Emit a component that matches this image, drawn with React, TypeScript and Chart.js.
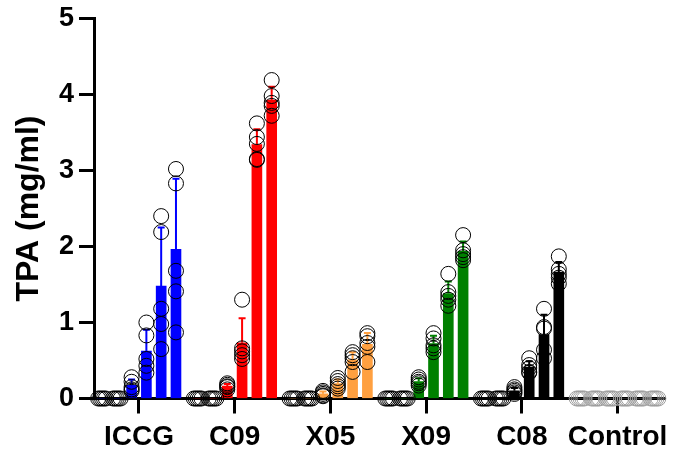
import React, { useEffect, useRef } from 'react';
import { Chart, registerables } from 'chart.js';

Chart.register(...registerables);

// ---- data (mg/ml TPA), 6 time points per enzyme, 5 replicates each ----
const categories = ['ICCG', 'C09', 'X05', 'X09', 'C08', 'Control'];
const yTickValues = [0, 1, 2, 3, 4, 5];
const seriesColors = ['#0000FF', '#FF0000', '#FFA040', '#008000', '#000000', '#9E9E9E'];

const iccg = [
  [0, 0, 0, 0, 0],
  [0, 0, 0, 0, 0],
  [0.28, 0.22, 0.15, 0.12, 0.1],
  [1.0, 0.83, 0.52, 0.43, 0.34],
  [2.4, 2.19, 1.18, 0.98, 0.65],
  [3.02, 2.83, 1.68, 1.41, 0.87],
];
const c09 = [
  [0, 0, 0, 0, 0],
  [0, 0, 0, 0, 0],
  [0.2, 0.18, 0.16, 0.15, 0.12],
  [1.3, 0.66, 0.62, 0.57, 0.52],
  [3.62, 3.44, 3.35, 3.15, 3.14],
  [4.19, 3.98, 3.89, 3.85, 3.72],
];
const x05 = [
  [0, 0, 0, 0, 0],
  [0, 0, 0, 0, 0],
  [0.1, 0.08, 0.06, 0.04, 0.03],
  [0.27, 0.23, 0.19, 0.16, 0.13],
  [0.61, 0.57, 0.53, 0.48, 0.35],
  [0.86, 0.82, 0.73, 0.68, 0.48],
];
const x09 = [
  [0, 0, 0, 0, 0],
  [0, 0, 0, 0, 0],
  [0.28, 0.25, 0.22, 0.2, 0.17],
  [0.86, 0.79, 0.7, 0.66, 0.61],
  [1.64, 1.4, 1.35, 1.3, 1.22],
  [2.15, 1.95, 1.9, 1.86, 1.82],
];
const c08 = [
  [0, 0, 0, 0, 0],
  [0, 0, 0, 0, 0],
  [0.15, 0.12, 0.1, 0.08, 0.06],
  [0.53, 0.44, 0.4, 0.35, 0.34],
  [1.18, 0.94, 0.92, 0.64, 0.53],
  [1.87, 1.7, 1.64, 1.59, 1.51],
];
const control = [
  [0, 0, 0, 0, 0],
  [0, 0, 0, 0, 0],
  [0, 0, 0, 0, 0],
  [0, 0, 0, 0, 0],
  [0, 0, 0, 0, 0],
  [0, 0, 0, 0, 0],
];
const replicates = [iccg, c09, x05, x09, c08, control];

const mean = (a: number[]) => a.reduce((s, v) => s + v, 0) / a.length;
const sd = (a: number[]) => {
  const m = mean(a);
  return Math.sqrt(a.reduce((s, v) => s + (v - m) * (v - m), 0) / (a.length - 1));
};

export default function App() {
  const ref = useRef<HTMLCanvasElement>(null);

  useEffect(() => {
    if (!ref.current) return;
    const FONT = "'Liberation Sans', Arial, sans-serif";
    const BAR_STEP = 0.1546;
    const barPos = (j: number, i: number) => j + (i - 2.5) * BAR_STEP;

    const bars: { x: number; y: number }[] = [];
    const barColors: string[] = [];
    const sds: number[] = [];
    replicates.forEach((cat, j) =>
      cat.forEach((vals, i) => {
        bars.push({ x: barPos(j, i), y: mean(vals) });
        barColors.push(seriesColors[j]);
        sds.push(sd(vals));
      })
    );

    const pts: { x: number; y: number }[] = [];
    const ptColors: string[] = [];
    replicates.forEach((cat, j) =>
      cat.forEach((vals, i) =>
        vals.forEach((v, k) => {
          const spread = v === 0 ? (k - 2) * 0.02 : 0;
          pts.push({ x: barPos(j, i) + spread, y: v });
          ptColors.push(j === 5 ? '#9E9E9E' : '#000000');
        })
      )
    );

    const errorBars = {
      id: 'errorBars',
      afterDatasetDraw(chart: any, args: any) {
        if (args.index !== 0) return;
        const ctx = chart.ctx;
        const ys = chart.scales.y;
        const meta = chart.getDatasetMeta(0);
        ctx.save();
        meta.data.forEach((el: any, n: number) => {
          if (!(sds[n] > 0)) return;
          const top = ys.getPixelForValue(bars[n].y + sds[n]);
          ctx.strokeStyle = barColors[n];
          ctx.lineWidth = 2;
          ctx.beginPath();
          ctx.moveTo(el.x, el.y);
          ctx.lineTo(el.x, top);
          ctx.moveTo(el.x - 3.5, top);
          ctx.lineTo(el.x + 3.5, top);
          ctx.stroke();
        });
        ctx.restore();
      },
    };

    const chart = new Chart(ref.current, {
      type: 'bar',
      data: {
        datasets: [
          {
            type: 'bar',
            data: bars as any,
            backgroundColor: barColors,
            borderWidth: 0,
            barThickness: 10,
            order: 2,
          } as any,
          {
            type: 'scatter',
            data: pts as any,
            pointRadius: 7.5,
            pointBorderWidth: 1,
            pointBorderColor: ptColors,
            pointBackgroundColor: 'rgba(0,0,0,0)',
            showLine: false,
            clip: false,
            order: 1,
          } as any,
        ],
      },
      options: {
        responsive: false,
        animation: false,
        layout: { padding: { top: 15, right: 5, left: 0, bottom: 0 } },
        plugins: { legend: { display: false }, tooltip: { enabled: false } },
        scales: {
          x: {
            type: 'linear',
            offset: false,
            min: -0.47,
            max: 5.5,
            afterBuildTicks: (scale: any) => {
              scale.ticks = categories.map((_, i) => ({ value: i }));
            },
            afterFit: (scale: any) => {
              scale.height = 55.5;
            },
            ticks: {
              callback: (v: any) => categories[Math.round(Number(v))],
              color: '#000',
              font: { family: FONT, size: 28, weight: 'bold', lineHeight: 1 },
              padding: 10,
              maxRotation: 0,
              autoSkip: false,
            },
            grid: {
              offset: false,
              drawOnChartArea: false,
              drawTicks: true,
              tickLength: 15,
              tickWidth: 3,
              tickColor: '#000',
            },
            border: { display: true, color: '#000', width: 3 },
          },
          y: {
            type: 'linear',
            min: 0,
            max: 5,
            afterBuildTicks: (scale: any) => {
              scale.ticks = yTickValues.map((v) => ({ value: v }));
            },
            afterFit: (scale: any) => {
              scale.width = 94;
            },
            ticks: {
              color: '#000',
              font: { family: FONT, size: 27, weight: 'bold', lineHeight: 1 },
              padding: 5,
            },
            grid: {
              drawOnChartArea: false,
              drawTicks: true,
              tickLength: 15,
              tickWidth: 3,
              tickColor: '#000',
            },
            border: { display: true, color: '#000', width: 3 },
            title: {
              display: true,
              text: 'TPA (mg/ml)',
              color: '#000',
              font: { family: FONT, size: 32, weight: 'bold', lineHeight: 1.2 },
              padding: { top: 10, bottom: 0 },
            },
          },
        },
      },
      plugins: [errorBars],
    });

    return () => chart.destroy();
  }, []);

  return (
    <div style={{ position: 'absolute', left: 0, top: 0, width: 678, height: 454 }}>
      <canvas ref={ref} width={678} height={454} style={{ display: 'block' }} />
    </div>
  );
}
